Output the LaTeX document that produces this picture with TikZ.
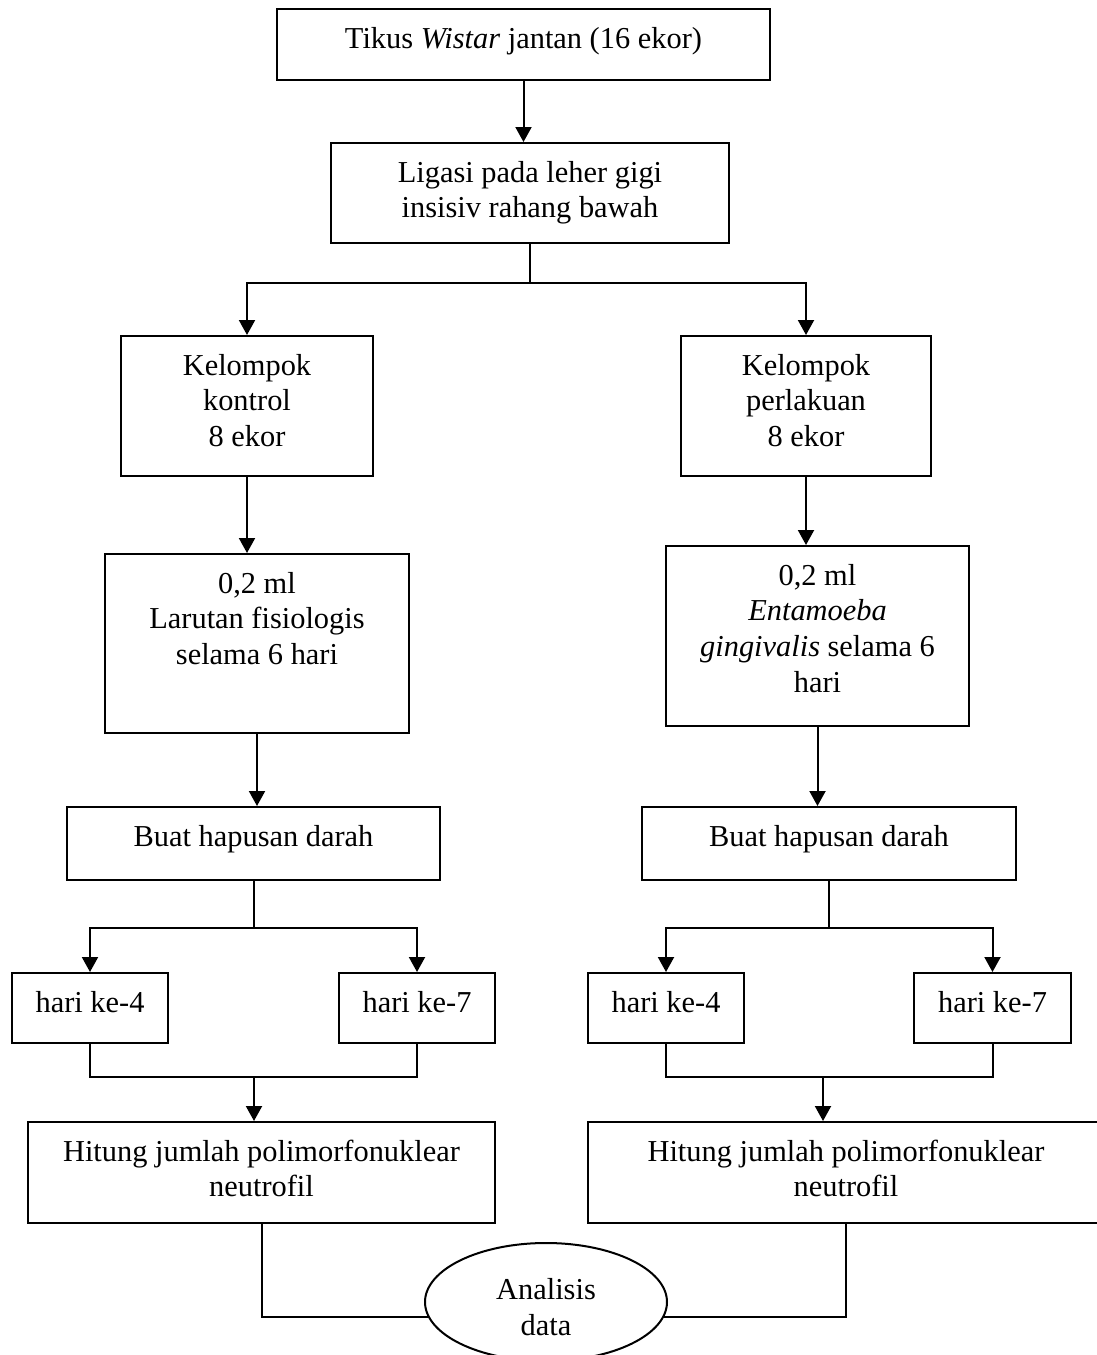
\documentclass[tikz,border=0pt]{standalone}
\usepackage{fontspec}
\setmainfont{Liberation Serif}
\usetikzlibrary{shapes.geometric,arrows.meta}
\newdimen\px \px=0.5pt
% box text: width, height (px), lines from the top
\newcommand{\boxtext}[3]{\parbox[c][#2\px][t]{#1\px}{\centering\rule{0pt}{19.5pt}#3}}

\begin{document}
\begin{tikzpicture}[
  x=0.5pt, y=-0.5pt,
  >={Triangle[width=8pt,length=7.5pt]}, line width=1pt,
  every node/.style={font=\fontsize{15.2pt}{17.9pt}\selectfont},
  box/.style={draw, inner sep=0pt, anchor=north west},
  oval/.style={draw, ellipse, inner sep=0pt, minimum width=242\px, minimum height=118\px, align=center}
]
  \useasboundingbox (0,0) rectangle (1097,1355);

  % Top
  \node (tikus) [box] at (276,8) {\boxtext{493}{71}{Tikus \textit{Wistar} jantan (16 ekor)}};
  \node (ligasi) [box] at (330,142) {\boxtext{398}{100}{Ligasi pada leher gigi\\ insisiv rahang bawah}};

  % Groups
  \node (kontrol) [box] at (120,335) {\boxtext{252}{140}{Kelompok\\ kontrol\\ 8 ekor}};
  \node (perlakuan) [box] at (680,335) {\boxtext{250}{140}{Kelompok\\ perlakuan\\ 8 ekor}};
  \node (larutan) [box] at (104,553) {\boxtext{304}{179}{0,2 ml\\ Larutan fisiologis\\ selama 6 hari}};
  \node (entamoeba) [box] at (665,545) {\boxtext{303}{180}{0,2 ml\\ \textit{Entamoeba}\\ \textit{gingivalis} selama 6\\ hari}};
  \node (buatL) [box] at (66,806) {\boxtext{373}{73}{Buat hapusan darah}};
  \node (buatR) [box] at (641,806) {\boxtext{374}{73}{Buat hapusan darah}};

  % Days
  \node (hariL4) [box] at (11,972) {\boxtext{156}{70}{hari ke-4}};
  \node (hariL7) [box] at (338,972) {\boxtext{156}{70}{hari ke-7}};
  \node (hariR4) [box] at (587,972) {\boxtext{156}{70}{hari ke-4}};
  \node (hariR7) [box] at (913,972) {\boxtext{157}{70}{hari ke-7}};

  % Count and analysis
  \node (hitungL) [box] at (27,1121) {\boxtext{467}{101}{Hitung jumlah polimorfonuklear\\ neutrofil}};
  \node (hitungR) [box] at (587,1121) {\boxtext{516}{101}{Hitung jumlah polimorfonuklear\\ neutrofil}};
  \node (analisis) [oval] at (546,1302) {\rule{0pt}{15.9pt}Analisis\\ data};

  \coordinate (mergeL) at (254,1077);
  \coordinate (mergeR) at (823,1077);

  % Connectors
  \draw[->] (tikus.south) -- (tikus.south |- ligasi.north);
  \draw[->] (ligasi.south) -- ++(0,39) -| (kontrol.north);
  \draw[->] (ligasi.south) -- ++(0,39) -| (perlakuan.north);
  \draw[->] (kontrol.south) -- (kontrol.south |- larutan.north);
  \draw[->] (perlakuan.south) -- (perlakuan.south |- entamoeba.north);
  \draw[->] (larutan.south) -- (larutan.south |- buatL.north);
  \draw[->] (entamoeba.south) -- (entamoeba.south |- buatR.north);
  \draw[->] (buatL.south) -- ++(0,47) -| (hariL4.north);
  \draw[->] (buatL.south) -- ++(0,47) -| (hariL7.north);
  \draw[->] (buatR.south) -- ++(0,47) -| (hariR4.north);
  \draw[->] (buatR.south) -- ++(0,47) -| (hariR7.north);
  \draw (hariL4.south) |- (mergeL) -| (hariL7.south);
  \draw (hariR4.south) |- (mergeR) -| (hariR7.south);
  \draw[->] (mergeL) -- (mergeL |- hitungL.north);
  \draw[->] (mergeR) -- (mergeR |- hitungR.north);
  \draw (hitungL.south) |- (analisis.187);
  \draw (hitungR.south) |- (analisis.353);
\end{tikzpicture}
\end{document}
